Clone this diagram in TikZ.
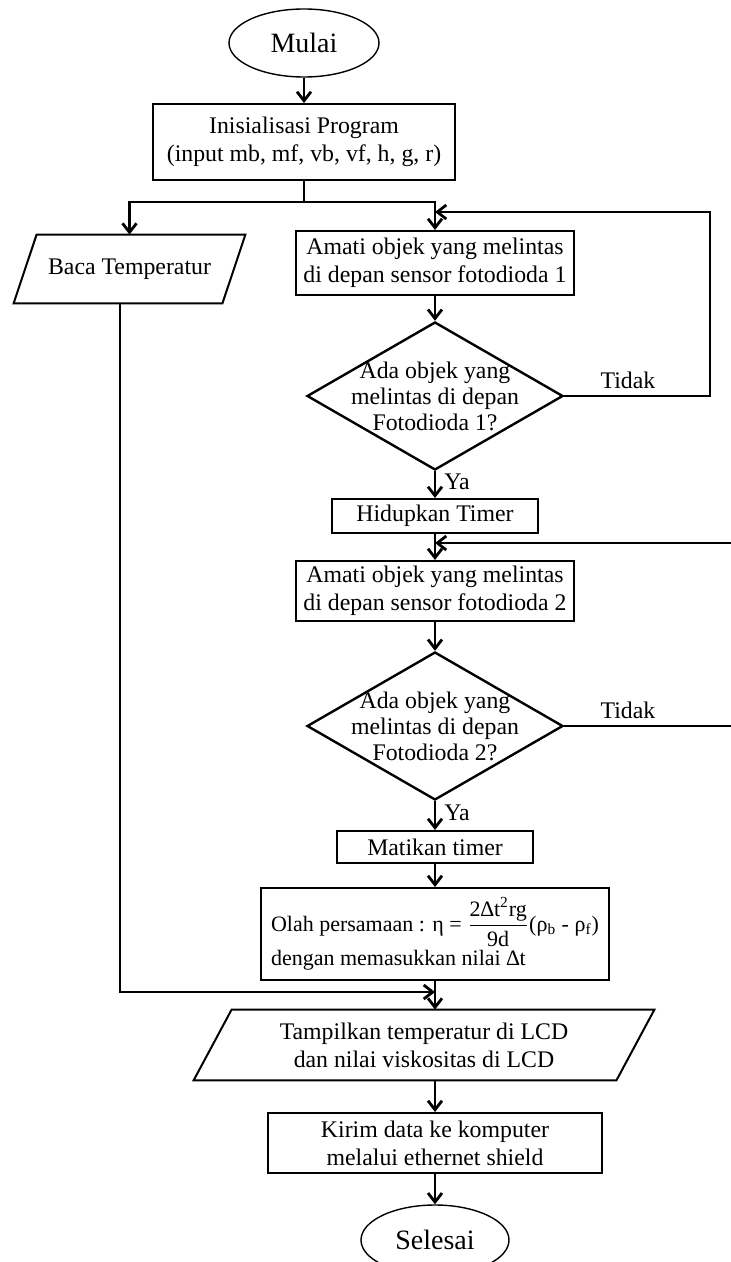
\documentclass[tikz,border=0pt]{standalone}
\usepackage{fontspec}
\setmainfont{Liberation Serif}
\usepackage{amsmath}
\usetikzlibrary{shapes.geometric, arrows.meta, positioning, calc}

\begin{document}
\begin{tikzpicture}[x=0.5pt, y=-0.5pt,
        every node/.style={font=\fontsize{11.9}{14}\selectfont},
        kotak/.style={draw, line width=1pt, inner sep=0pt, align=center},
        oval/.style={draw, ellipse, line width=0.7pt, inner sep=0pt, font=\fontsize{14}{16}\selectfont},
        teks/.style={inner sep=0pt, align=center},
        belah/.style={draw, diamond, line width=1.2pt, inner sep=0pt, minimum width=128pt, minimum height=74pt},
        bingkai/.style={line width=1pt, line join=miter},
        garis/.style={line width=1.4pt},
        panah/.style={garis, -{Straight Barb[length=4.5pt,width=7pt]}}]
        \useasboundingbox (0,0) rectangle (731,1262);

        % awal
        \node[oval, minimum width=75pt, minimum height=34pt] (mulai) at (304,43) {Mulai};
        \node[kotak, minimum width=151pt, minimum height=38pt] (init) at (304,142) {Inisialisasi Program\\(input mb, mf, vb, vf, h, g, r)};

        % baca suhu (jajar genjang)
        \node[teks, minimum width=115.5pt, minimum height=34pt] (baca) at (129.5,269) {Baca Temperatur};
        \draw[bingkai] ([xshift=11.5pt]baca.north west) -- (baca.north east) -- ([xshift=-11.5pt]baca.south east) -- (baca.south west) -- cycle;

        % fotodioda 1
        \node[kotak, minimum width=139pt, minimum height=32pt] (amati1) at (435,263) {Amati objek yang melintas\\di depan sensor fotodioda 1};
        \node[belah] (cek1) at (435,396) {};
        \node[teks, font=\fontsize{11.9}{13}\selectfont] (cek1txt) at (cek1) {Ada objek yang\\melintas di depan\\Fotodioda 1?};
        \node[kotak, minimum width=103pt, minimum height=17pt] (hidup) at (435,516) {Hidupkan Timer};

        % fotodioda 2
        \node[kotak, minimum width=139pt, minimum height=30pt] (amati2) at (435,591) {Amati objek yang melintas\\di depan sensor fotodioda 2};
        \node[belah] (cek2) at (435,726) {};
        \node[teks, font=\fontsize{11.9}{13}\selectfont] (cek2txt) at (cek2) {Ada objek yang\\melintas di depan\\Fotodioda 2?};
        \node[kotak, minimum width=98pt, minimum height=16pt] (mati) at (435,847) {Matikan timer};

        % hitung viskositas
        \node[kotak, minimum width=170pt, minimum height=46pt, inner xsep=5pt, inner ysep=2pt, align=left, font=\fontsize{11}{13}\selectfont] (olah) at (435,934)
            {Olah persamaan : η = $\dfrac{\text{2∆t}^{\text{2}}\text{rg}}{\text{9d}}$(ρ\textsubscript{b} - ρ\textsubscript{f})\\[1pt]dengan memasukkan nilai ∆t};

        % tampil (jajar genjang)
        \node[teks, minimum width=230pt, minimum height=35pt] (tampil) at (424,1045) {Tampilkan temperatur di LCD\\dan nilai viskositas di LCD};
        \draw[bingkai] ([xshift=19pt]tampil.north west) -- (tampil.north east) -- ([xshift=-19pt]tampil.south east) -- (tampil.south west) -- cycle;

        \node[kotak, minimum width=167pt, minimum height=30pt] (kirim) at (435,1143) {Kirim data ke komputer\\melalui ethernet shield};
        \node[oval, minimum width=74pt, minimum height=35pt] (selesai) at (435,1240) {Selesai};

        % label cabang
        \node[teks] (tidak1) at (628,380) {Tidak};
        \node[teks, anchor=west] (ya1) at (444,482) {Ya};
        \node[teks] (tidak2) at (628,710) {Tidak};
        \node[teks, anchor=west] (ya2) at (444,813) {Ya};

        % titik bantu
        \coordinate (cabang) at (304,202);
        \coordinate (kanan1) at (710,396);
        \coordinate (masuk1) at (435,212);
        \coordinate (kanan2) at (745,726);
        \coordinate (masuk2) at (435,543);
        \coordinate (gabung) at (435,992);

        % alur
        \draw[panah] (mulai) -- (init);
        \draw[garis] (init) -- (cabang);
        \draw[panah] (cabang) -| (baca);
        \draw[panah] (cabang) -| (amati1);
        \draw[panah] (amati1) -- (cek1);
        \draw[panah] (cek1.east) -- (kanan1) |- (masuk1);
        \draw[panah] (cek1) -- (hidup);
        \draw[panah] (hidup) -- (amati2);
        \draw[panah] (amati2) -- (cek2);
        \draw[panah] (cek2.east) -- (kanan2) |- (masuk2);
        \draw[panah] (cek2) -- (mati);
        \draw[panah] (mati) -- (olah);
        \draw[panah] ([xshift=-4.75pt]baca.south) |- (gabung);
        \draw[panah] (olah) -- (olah |- tampil.north);
        \draw[panah] (kirim |- tampil.south) -- (kirim);
        \draw[panah] (kirim) -- (selesai);
    \end{tikzpicture}
\end{document}
